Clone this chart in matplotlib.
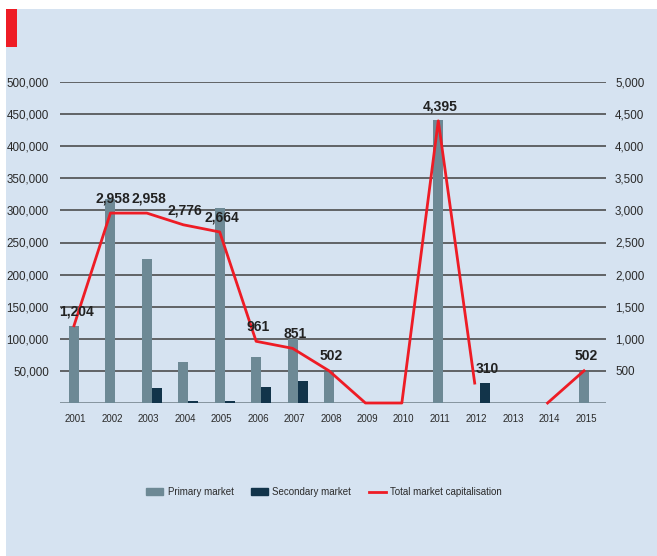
import numpy as np
import matplotlib
matplotlib.use('Agg')
from matplotlib import pyplot as plt
from matplotlib.patches import Rectangle, Patch
from matplotlib.lines import Line2D

plt.rcParams['font.family'] = ['Liberation Sans', 'DejaVu Sans']

years = ['2001', '2002', '2003', '2004', '2005', '2006', '2007', '2008',
         '2009', '2010', '2011', '2012', '2013', '2014', '2015']
primary = [120000, 317000, 225000, 64000, 303000, 72000, 100000, 49000,
           0, 0, 441000, 0, 0, 0, 49000]
secondary = [0, 0, 24000, 3600, 3600, 25500, 35000, 0,
             0, 0, 0, 30500, 0, 0, 0]
total_cap = [1204, 2958, 2958, 2776, 2664, 961, 851, 502,
             0, 0, 4395, 310, np.nan, 0, 502]
cap_labels = ['1,204', '2,958', '2,958', '2,776', '2,664', '961', '851', '502',
              '', '', '4,395', '310', '', '', '502']

bg = '#d6e3f1'
c_primary = '#6d8995'
c_secondary = '#12344a'
c_line = '#ee1c25'
c_text = '#2a2a2a'

fig = plt.figure(figsize=(6.57, 5.56), dpi=100)
fig.patch.set_facecolor('white')
# light blue panel and red tab at the top left
fig.patches.append(Rectangle((6 / 657, 0), 651 / 657, 547 / 556, transform=fig.transFigure,
                             facecolor=bg, edgecolor='none', zorder=-10))
fig.patches.append(Rectangle((6 / 657, 509 / 556), 11 / 657, 38 / 556, transform=fig.transFigure,
                             facecolor='#ee1c25', edgecolor='none', zorder=-9))

ax = fig.add_axes([60 / 657, 153 / 556, 546 / 657, 321 / 556])
ax.set_facecolor('none')
x = np.arange(len(years))
w = 0.275
ax.bar(x, primary, width=w, color=c_primary, zorder=3)
ax.bar(x + w, secondary, width=w, color=c_secondary, zorder=3)

ax.set_xlim(-0.384, 14.604)
ax.set_ylim(0, 500000)
ax.set_yticks(np.arange(50000, 500001, 50000))
ax.set_yticklabels(['{:,}'.format(v) for v in range(50000, 500001, 50000)],
                   fontsize=8.4, color=c_text)
for v in range(0, 500001, 50000):
    ax.axhline(v, color='#404040' if v else '#6f7f88', lw=1.1, zorder=1)
ax.set_xticks(x + 0.05)
ax.set_xticklabels(years, fontsize=7, color=c_text)
ax.tick_params(length=0)
ax.tick_params(axis='x', pad=8)
ax.tick_params(axis='y', pad=8)
for s in ax.spines.values():
    s.set_visible(False)

ax2 = ax.twinx()
ax2.set_ylim(0, 5000)
ax2.plot(x, total_cap, color=c_line, lw=2, zorder=5, clip_on=False)
ax2.set_yticks(np.arange(500, 5001, 500))
ax2.set_yticklabels(['{:,}'.format(v) for v in range(500, 5001, 500)],
                    fontsize=8.4, color=c_text)
ax2.tick_params(length=0, pad=6.5)
for s in ax2.spines.values():
    s.set_visible(False)

for i, lab in enumerate(cap_labels):
    if not lab:
        continue
    dx = 9 if years[i] == '2012' else 1.5
    ax2.annotate(lab, (x[i], total_cap[i]), xytext=(dx, 10.5),
                 textcoords='offset points', ha='center', va='center',
                 fontsize=10, fontweight='bold', color='#222222', zorder=6)

handles = [Patch(color=c_primary), Patch(color=c_secondary),
           Line2D([0], [0], color=c_line, lw=2)]
fig.legend(handles, ['Primary market', 'Secondary market', 'Total market capitalisation'],
           loc='center', bbox_to_anchor=(324 / 657, 0.115), ncol=3, frameon=False,
           fontsize=7, handlelength=1.75, handleheight=0.72, columnspacing=1.8,
           handletextpad=0.45, labelcolor=c_text)

fig.savefig('out.png', dpi=100, facecolor=fig.get_facecolor())
